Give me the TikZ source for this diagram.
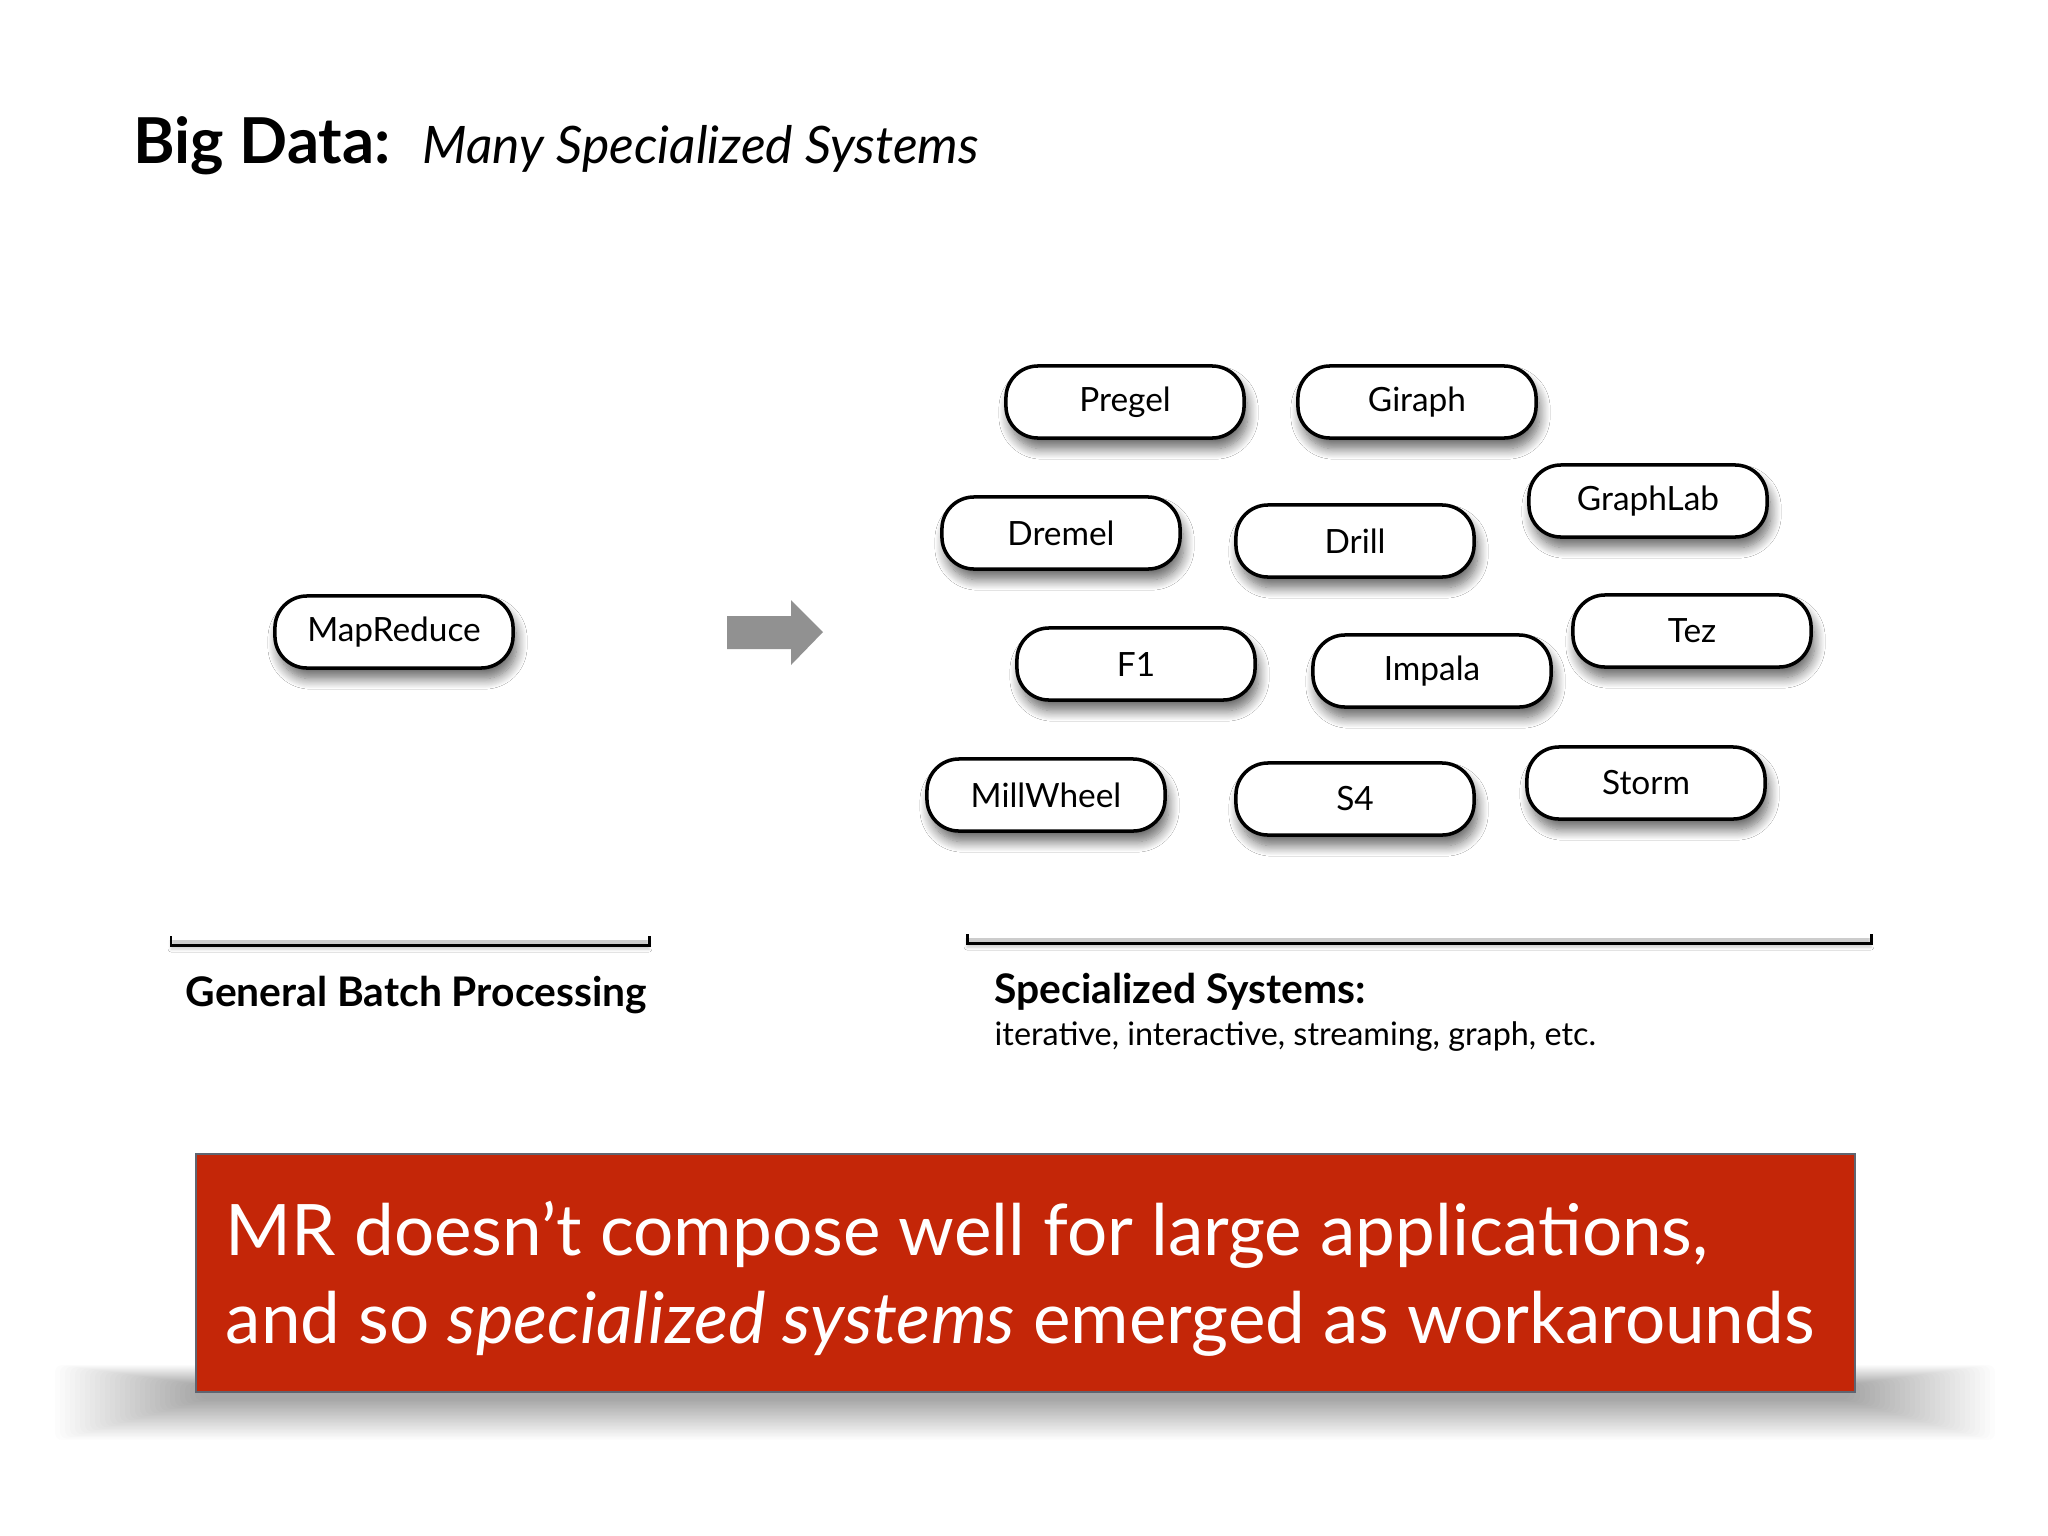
\documentclass[tikz,border=0pt]{standalone}
\usepackage{fontspec}
\setmainfont{Lato}
\usetikzlibrary{shadows.blur}
\definecolor{boxred}{RGB}{196,38,8}
\definecolor{arrowgray}{RGB}{145,145,145}
\definecolor{boxedge}{RGB}{95,100,112}
\begin{document}
\begin{tikzpicture}[x=0.01cm,y=-0.01cm,
  pill/.style={draw=black, line width=1pt, fill=white, rounded corners=3.2mm,
    minimum width=2.38cm, minimum height=0.72cm, inner sep=0pt,
    font=\fontsize{9.5}{12}\selectfont,
    blur shadow={shadow xshift=1pt, shadow yshift=-3pt, shadow blur radius=3pt,
      shadow blur steps=12, shadow opacity=60}},
  txt/.style={anchor=base west, inner sep=0pt},
  bracket/.style={draw=black, line width=0.85pt,
    blur shadow={shadow xshift=0pt, shadow yshift=-1.2pt, shadow blur radius=0.8pt, shadow opacity=20}}]
\useasboundingbox (0,0) rectangle (2048,1536);
\fill[white] (0,0) rectangle (2048,1536);

% title
\node[txt, font=\bfseries\fontsize{18}{21}\selectfont] (t1) at (133,163) {Big Data:};
\node[txt, font=\itshape\fontsize{14.7}{18}\selectfont] (t2) at (422,163) {Many Specialized Systems};

% left
\node[pill] (mr) at (394,632) {MapReduce};

% arrow
\fill[arrowgray] (727,616) -- (791,616) -- (791,600) -- (823,632) -- (791,665) -- (791,649) -- (727,649) -- cycle;

% right
\node[pill] (pregel) at (1125,402) {Pregel};
\node[pill] (giraph) at (1417,402) {Giraph};
\node[pill] (graphlab) at (1648,501) {GraphLab};
\node[pill] (dremel) at (1061,533) {Dremel};
\node[pill] (drill) at (1355,541) {Drill};
\node[pill] (tez) at (1692,631) {Tez};
\node[pill] (f1) at (1136,664) {F1};
\node[pill] (impala) at (1432,671) {Impala};
\node[pill] (millwheel) at (1046,795) {MillWheel};
\node[pill] (s4) at (1355,799) {S4};
\node[pill] (storm) at (1646,783) {Storm};

% brackets
\draw[bracket] (171,936) -- (171,945) -- (649,945) -- (649,936);
\draw[bracket] (967,934) -- (967,943) -- (1871,943) -- (1871,934);

\node[txt, font=\bfseries\fontsize{11.6}{14}\selectfont] (gbp) at (185,1006) {General Batch Processing};
\node[txt, font=\bfseries\fontsize{11.6}{14}\selectfont] (spec) at (994,1003) {Specialized Systems:};
\node[txt, font=\fontsize{9.2}{11}\selectfont] (specsub) at (994,1045) {iterative, interactive, streaming, graph, etc.};

% bottom message shadow (soft, layered)
\foreach \i in {1,...,30} {
  \fill[black, opacity=0.01, rounded corners=0.7mm]
    ({55+(\i-1)*5}, {1365+(\i-1)*0.7}) rectangle ({1995-(\i-1)*5}, {1440-(\i-1)*1.4});
}
\node[fill=boxred, draw=boxedge, line width=0.6pt, minimum width=16.58cm,
  minimum height=2.38cm, inner sep=0pt, anchor=north west] (msg) at (195,1153) {};
\node[txt, text=white, font=\fontsize{20.2}{24}\selectfont] (msga) at (225,1255)
  {MR doesn’t compose well for large applications,};
\node[txt, text=white, font=\fontsize{20.2}{24}\selectfont] (msgb) at (225,1343)
  {and so \textit{specialized systems} emerged as workarounds};
\end{tikzpicture}
\end{document}
